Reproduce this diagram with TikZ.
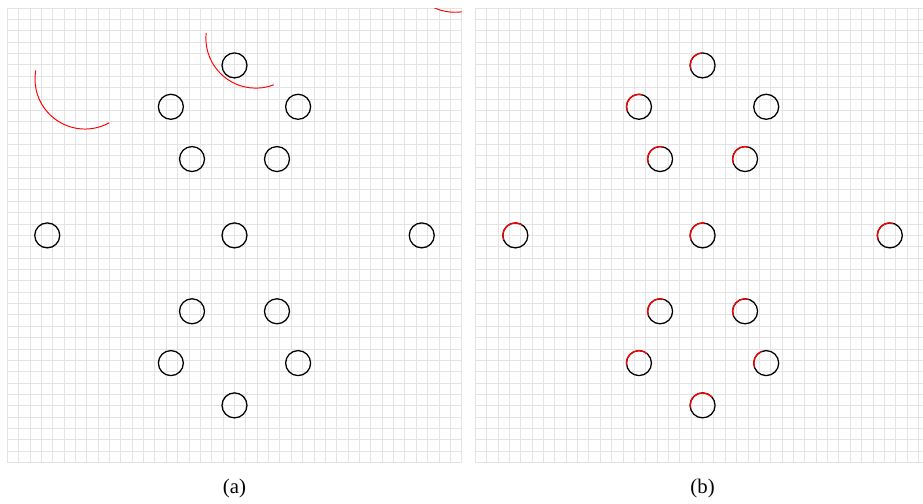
\documentclass[tikz,border=0pt]{standalone}
\usepackage{fontspec}
\setmainfont{Liberation Serif}
\usetikzlibrary{calc}

\begin{document}
\begin{tikzpicture}[
        rejilla/.style={draw=gray!22, line width=0.6pt},
        anillo/.style={circle, draw=black, thick, minimum size=0.55cm, inner sep=0pt, outer sep=0pt},
        traza/.style={draw=red, semithick},
        marca/.style={draw=red, thick},
        etiqueta/.style={font=\fontsize{13}{15}\selectfont}
    ]
        \useasboundingbox (-5.16,-5.89) rectangle (15.15,5.18);

        % ---------------- PANEL (a) ----------------
        % Rejilla de fondo
        \draw[rejilla] (-5,-5) grid[step=0.25] (5,5);
        \draw[rejilla] (-5,-5) rectangle (5,5);

        % Trayectorias (recortadas al panel)
        \coordinate (c1) at (-3.29,3.44);
        \coordinate (c2) at (0.47,4.34);
        \coordinate (c3) at (4.85,6.01);
        \begin{scope}
            \clip (-5,-5) rectangle (5,5);
            \draw[traza] ($(c1)+(170:1.1)$) arc[start angle=170, end angle=299, radius=1.1];
            \draw[traza] ($(c2)+(174:1.1)$) arc[start angle=174, end angle=291, radius=1.1];
            \draw[traza] ($(c3)+(230:1.1)$) arc[start angle=230, end angle=310, radius=1.1];
        \end{scope}

        % Anillos
        \foreach \n/\x/\y in {1/0/3.74, 2/-1.40/2.83, 3/1.40/2.83, 4/-0.935/1.68, 5/0.935/1.68,
                              6/-4.12/0, 7/0/0, 8/4.12/0, 9/-0.935/-1.67, 10/0.935/-1.67,
                              11/-1.40/-2.81, 12/1.40/-2.81, 13/0/-3.74}
            \node[anillo] (a\n) at (\x,\y) {};

        \node[etiqueta] (la) at (0,-5.56) {(a)};

        % ---------------- PANEL (b) ----------------
        \begin{scope}[xshift=10.3cm]
            \draw[rejilla] (-5,-5) grid[step=0.25] (5,5);
            \draw[rejilla] (-5,-5) rectangle (5,5);

            \foreach \n/\x/\y in {1/0/3.74, 2/-1.40/2.83, 3/1.40/2.83, 4/-0.935/1.68, 5/0.935/1.68,
                                  6/-4.12/0, 7/0/0, 8/4.12/0, 9/-0.935/-1.67, 10/0.935/-1.67,
                                  11/-1.40/-2.81, 12/1.40/-2.81, 13/0/-3.74}
                \node[anillo] (b\n) at (\x,\y) {};

            % Tramos en rojo sobre cada anillo
            \foreach \n/\s/\e in {1/95/195, 2/75/200, 4/75/200, 5/75/200, 6/60/200, 7/80/200,
                                  8/75/200, 9/75/200, 10/75/200, 11/50/190, 12/110/200, 13/40/190}
                \draw[marca] (b\n.\s) arc[start angle=\s, end angle=\e, radius=0.275cm];

            \node[etiqueta] (lb) at (0,-5.56) {(b)};
        \end{scope}

    \end{tikzpicture}
\end{document}
